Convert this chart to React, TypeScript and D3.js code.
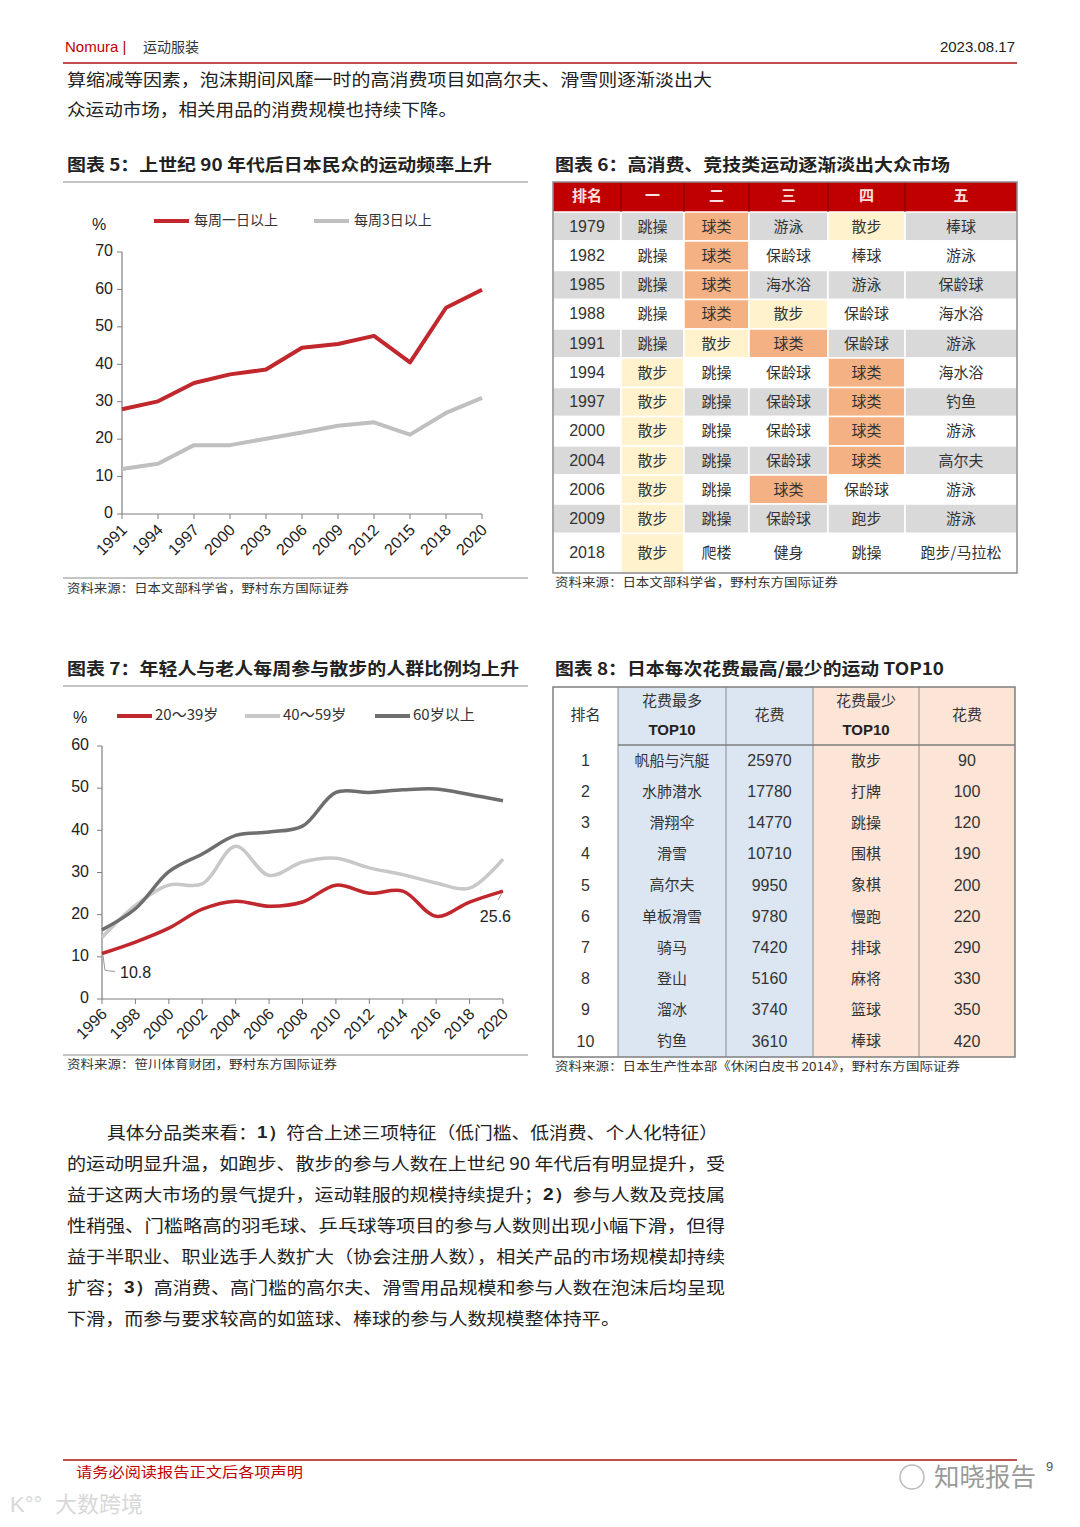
import React from "react";
import * as d3 from "d3";

const FONT_CN = "'Noto Sans CJK SC', 'Noto Sans', sans-serif";
const FONT_NUM = "'Liberation Sans', Arial, sans-serif";
const RED = "#c0282d";

// ---------- Chart 5 data ----------
const c5Years = ["1991", "1994", "1997", "2000", "2003", "2006", "2009", "2012", "2015", "2018", "2020"];
const c5Weekly1 = [28.0, 30.1, 35.0, 37.3, 38.6, 44.4, 45.4, 47.6, 40.5, 55.1, 59.9];
const c5Weekly3 = [12.0, 13.4, 18.4, 18.4, 20.1, 21.8, 23.6, 24.5, 21.2, 27.0, 31.0];
const c5YTicks = [0, 10, 20, 30, 40, 50, 60, 70];

// ---------- Chart 7 data ----------
const c7Years = [1996, 1998, 2000, 2002, 2004, 2006, 2008, 2010, 2012, 2014, 2016, 2018, 2020];
const c7Age20 = [10.8, 13.5, 16.8, 21.3, 23.2, 22.0, 23.0, 27.0, 25.1, 25.6, 19.6, 23.0, 25.6];
const c7Age40 = [14.6, 22.2, 27.0, 27.3, 36.2, 29.3, 32.5, 33.4, 31.1, 29.5, 27.5, 26.3, 33.2];
const c7Age60 = [16.4, 21.4, 30.2, 34.4, 38.8, 39.6, 41.0, 49.0, 49.0, 49.6, 49.8, 48.5, 47.0];
const c7YTicks = [0, 10, 20, 30, 40, 50, 60];

// ---------- Table 6 data ----------
const t6Header = ["排名", "一", "二", "三", "四", "五"];
const t6Years = ["1979", "1982", "1985", "1988", "1991", "1994", "1997", "2000", "2004", "2006", "2009", "2018"];
const t6Rank1 = ["跳操", "跳操", "跳操", "跳操", "跳操", "散步", "散步", "散步", "散步", "散步", "散步", "散步"];
const t6Rank2 = ["球类", "球类", "球类", "球类", "散步", "跳操", "跳操", "跳操", "跳操", "跳操", "跳操", "爬楼"];
const t6Rank3 = ["游泳", "保龄球", "海水浴", "散步", "球类", "保龄球", "保龄球", "保龄球", "保龄球", "球类", "保龄球", "健身"];
const t6Rank4 = ["散步", "棒球", "游泳", "保龄球", "保龄球", "球类", "球类", "球类", "球类", "保龄球", "跑步", "跳操"];
const t6Rank5 = ["棒球", "游泳", "保龄球", "海水浴", "游泳", "海水浴", "钓鱼", "游泳", "高尔夫", "游泳", "游泳", "跑步/马拉松"];

// ---------- Table 8 data ----------
const t8Rank = ["1", "2", "3", "4", "5", "6", "7", "8", "9", "10"];
const t8HighSport = ["帆船与汽艇", "水肺潜水", "滑翔伞", "滑雪", "高尔夫", "单板滑雪", "骑马", "登山", "溜冰", "钓鱼"];
const t8HighCost = [25970, 17780, 14770, 10710, 9950, 9780, 7420, 5160, 3740, 3610];
const t8LowSport = ["散步", "打牌", "跳操", "围棋", "象棋", "慢跑", "排球", "麻将", "篮球", "棒球"];
const t8LowCost = [90, 100, 120, 190, 200, 220, 290, 330, 350, 420];

const FitText = ({ x, y, x2, children, size = 17, weight = 400, fill = "#222", family = FONT_CN }: any) => (
  <text x={x} y={y} textLength={x2 - x} lengthAdjust="spacingAndGlyphs" fontSize={size} fontWeight={weight}
    fill={fill} fontFamily={family} dominantBaseline="middle">{children}</text>
);

function Chart5() {
  const x = d3.scalePoint<string>().domain(c5Years).range([122, 482]);
  const y = d3.scaleLinear().domain([0, 70]).range([514, 252]);
  const line = d3.line<number>().x((_, i) => x(c5Years[i]) as number).y((d) => y(d));
  return (
    <g>
      <FitText x={67} y={166} x2={492} weight={700}>图表 5：上世纪 90 年代后日本民众的运动频率上升</FitText>
      <line x1={63} x2={528} y1={182} y2={182} stroke="#8c8c8c" strokeWidth={1.2} />
      <text x={92} y={226} fontSize={16} fontFamily={FONT_NUM} fill="#222" dominantBaseline="middle">%</text>
      <line x1={154} x2={189} y1={221} y2={221} stroke={RED} strokeWidth={4} />
      <text x={194} y={221} fontSize={14} fontFamily={FONT_CN} fill="#333" dominantBaseline="middle">每周一日以上</text>
      <line x1={314} x2={349} y1={221} y2={221} stroke="#bfbfbf" strokeWidth={4} />
      <text x={354} y={221} fontSize={14} fontFamily={FONT_CN} fill="#333" dominantBaseline="middle">每周3日以上</text>
      <line x1={122} x2={122} y1={252} y2={514} stroke="#7f7f7f" strokeWidth={1.2} />
      <line x1={122} x2={482} y1={514} y2={514} stroke="#7f7f7f" strokeWidth={1.2} />
      {c5YTicks.map((t) => (
        <g key={t}>
          <line x1={117} x2={122} y1={y(t)} y2={y(t)} stroke="#7f7f7f" />
          <text x={113} y={y(t)} textAnchor="end" dominantBaseline="middle" fontSize={16} fontFamily={FONT_NUM} fill="#222">{t}</text>
        </g>
      ))}
      {c5Years.map((yr) => (
        <g key={yr}>
          <line x1={x(yr)} x2={x(yr)} y1={514} y2={519} stroke="#7f7f7f" />
          <text transform={`translate(${(x(yr) as number) + 2},${527}) rotate(-45)`} textAnchor="end" dy="0.35em"
            fontSize={16} fontFamily={FONT_NUM} fill="#222">{yr}</text>
        </g>
      ))}
      <path d={line(c5Weekly3) || ""} fill="none" stroke="#bfbfbf" strokeWidth={4} strokeLinejoin="round" />
      <path d={line(c5Weekly1) || ""} fill="none" stroke={RED} strokeWidth={4} strokeLinejoin="round" />
      <line x1={63} x2={528} y1={578} y2={578} stroke="#8c8c8c" strokeWidth={1.2} />
      <FitText x={67} y={590} x2={349} size={12} fill="#333">资料来源：日本文部科学省，野村东方国际证券</FitText>
    </g>
  );
}

function Chart7() {
  const x = d3.scaleLinear().domain([1996, 2020]).range([102, 503]);
  const y = d3.scaleLinear().domain([0, 60]).range([999, 746]);
  const line = d3.line<number>().x((_, i) => x(c7Years[i])).y((d) => y(d)).curve(d3.curveCatmullRom.alpha(0.5));
  const last = c7Years.length - 1;
  return (
    <g>
      <FitText x={67} y={670} x2={519} weight={700}>图表 7：年轻人与老人每周参与散步的人群比例均上升</FitText>
      <line x1={63} x2={528} y1={686} y2={686} stroke="#8c8c8c" strokeWidth={1.2} />
      <text x={73} y={719} fontSize={16} fontFamily={FONT_NUM} fill="#222" dominantBaseline="middle">%</text>
      <line x1={117} x2={152} y1={716} y2={716} stroke={RED} strokeWidth={4} />
      <text x={155} y={716} fontSize={15} fontFamily={FONT_CN} fill="#333" dominantBaseline="middle">20～39岁</text>
      <line x1={245} x2={280} y1={716} y2={716} stroke="#c8c8c8" strokeWidth={4} />
      <text x={283} y={716} fontSize={15} fontFamily={FONT_CN} fill="#333" dominantBaseline="middle">40～59岁</text>
      <line x1={375} x2={410} y1={716} y2={716} stroke="#6e6e6e" strokeWidth={4} />
      <text x={413} y={716} fontSize={15} fontFamily={FONT_CN} fill="#333" dominantBaseline="middle">60岁以上</text>
      <line x1={102} x2={102} y1={746} y2={999} stroke="#7f7f7f" strokeWidth={1.2} />
      <line x1={102} x2={503} y1={999} y2={999} stroke="#7f7f7f" strokeWidth={1.2} />
      {c7YTicks.map((t) => (
        <g key={t}>
          <line x1={97} x2={102} y1={y(t)} y2={y(t)} stroke="#7f7f7f" />
          <text x={89} y={y(t)} textAnchor="end" dominantBaseline="middle" fontSize={16} fontFamily={FONT_NUM} fill="#222">{t}</text>
        </g>
      ))}
      {c7Years.map((yr) => (
        <g key={yr}>
          <line x1={x(yr)} x2={x(yr)} y1={999} y2={1004} stroke="#7f7f7f" />
          <text transform={`translate(${x(yr) + 2},${1011}) rotate(-45)`} textAnchor="end" dy="0.35em"
            fontSize={16} fontFamily={FONT_NUM} fill="#222">{yr}</text>
        </g>
      ))}
      <path d={line(c7Age40) || ""} fill="none" stroke="#c8c8c8" strokeWidth={3.5} />
      <path d={line(c7Age60) || ""} fill="none" stroke="#6e6e6e" strokeWidth={3.5} />
      <path d={line(c7Age20) || ""} fill="none" stroke={RED} strokeWidth={3.5} />
      <polyline points={`${x(c7Years[0]) + 1},${y(c7Age20[0]) + 2} ${x(c7Years[0]) + 3},${y(c7Age20[0]) + 17} ${x(c7Years[0]) + 13},${y(c7Age20[0]) + 18}`}
        fill="none" stroke="#999" strokeWidth={1} />
      <text x={x(c7Years[0]) + 18} y={y(c7Age20[0]) + 20} fontSize={16} fontFamily={FONT_NUM} fill="#222" dominantBaseline="middle">{c7Age20[0]}</text>
      <line x1={x(c7Years[last]) - 1} y1={y(c7Age20[last]) + 2} x2={x(c7Years[last]) - 5} y2={y(c7Age20[last]) + 9} stroke="#999" />
      <text x={x(c7Years[last]) + 8} y={y(c7Age20[last]) + 27} textAnchor="end" fontSize={16} fontFamily={FONT_NUM} fill="#222" dominantBaseline="middle">{c7Age20[last]}</text>
      <line x1={63} x2={528} y1={1055} y2={1055} stroke="#8c8c8c" strokeWidth={1.2} />
      <FitText x={67} y={1066} x2={337} size={12} fill="#333">资料来源：笹川体育财团，野村东方国际证券</FitText>
    </g>
  );
}

function Table6() {
  const colX = [553, 621, 684, 749, 828, 905, 1017];
  const rowY = [212, 241, 270.5, 299.5, 329, 358, 387.5, 416.5, 446, 475, 504, 533.5, 573];
  const cols = [t6Years, t6Rank1, t6Rank2, t6Rank3, t6Rank4, t6Rank5];
  const cellFill = (v: string, r: number) => {
    if (v === "球类") return "#f4b183";
    if (v === "散步") return "#fff2cc";
    return r % 2 === 0 && r < 11 ? "#d9d9d9" : "#ffffff";
  };
  return (
    <g>
      <FitText x={555} y={166} x2={950} weight={700}>图表 6：高消费、竞技类运动逐渐淡出大众市场</FitText>
      <rect x={colX[0]} y={182} width={colX[6] - colX[0]} height={30} fill="#c00000" />
      {t6Header.map((h, i) => (
        <text key={h} x={(colX[i] + colX[i + 1]) / 2} y={197} textAnchor="middle" dominantBaseline="middle"
          fontSize={15} fontWeight={700} fontFamily={FONT_CN} fill="#fbe0e0">{h}</text>
      ))}
      {t6Years.map((_, r) =>
        cols.map((col, c) => {
          const v = col[r];
          return (
            <g key={`${r}-${c}`}>
              <rect x={colX[c]} y={rowY[r]} width={colX[c + 1] - colX[c]} height={rowY[r + 1] - rowY[r]}
                fill={c === 0 ? (r % 2 === 0 && r < 11 ? "#d9d9d9" : "#ffffff") : cellFill(v, r)} stroke="#ffffff" strokeWidth={1.5} />
              <text x={(colX[c] + colX[c + 1]) / 2} y={(rowY[r] + rowY[r + 1]) / 2 + 1} textAnchor="middle" dominantBaseline="middle"
                fontSize={c === 0 ? 16 : 15} fontFamily={c === 0 ? FONT_NUM : FONT_CN} fill="#333">{v}</text>
            </g>
          );
        })
      )}
      {colX.slice(1, 6).map((cx) => (
        <line key={cx} x1={cx} x2={cx} y1={182} y2={212} stroke="#7a0000" strokeWidth={1} />
      ))}
      <rect x={colX[0]} y={182} width={colX[6] - colX[0]} height={573 - 182} fill="none" stroke="#8c8c8c" strokeWidth={1.5} />
      <FitText x={555} y={584} x2={838} size={12} fill="#333">资料来源：日本文部科学省，野村东方国际证券</FitText>
    </g>
  );
}

function Table8() {
  const colX = [553, 618, 726, 813, 919, 1015];
  const top = 687, headBottom = 745, bottom = 1057;
  const rowH = (bottom - headBottom) / t8Rank.length;
  const cols = [t8Rank, t8HighSport, t8HighCost.map(String), t8LowSport, t8LowCost.map(String)];
  return (
    <g>
      <FitText x={555} y={670} x2={944} weight={700}>图表 8：日本每次花费最高/最少的运动 TOP10</FitText>
      <rect x={colX[1]} y={top} width={colX[3] - colX[1]} height={bottom - top} fill="#dce6f2" />
      <rect x={colX[3]} y={top} width={colX[5] - colX[3]} height={bottom - top} fill="#fce4d6" />
      {colX.slice(1, 5).map((cx) => (
        <line key={cx} x1={cx} x2={cx} y1={top} y2={bottom} stroke="#8c8c8c" strokeWidth={1} />
      ))}
      <line x1={colX[1]} x2={colX[5]} y1={headBottom} y2={headBottom} stroke="#7f7f7f" strokeWidth={1.5} />
      <rect x={colX[0]} y={top} width={colX[5] - colX[0]} height={bottom - top} fill="none" stroke="#7f7f7f" strokeWidth={1.5} />
      <text x={(colX[0] + colX[1]) / 2} y={716} textAnchor="middle" dominantBaseline="middle" fontSize={15} fontFamily={FONT_CN} fill="#333">排名</text>
      <text x={(colX[1] + colX[2]) / 2} y={702} textAnchor="middle" dominantBaseline="middle" fontSize={15} fontFamily={FONT_CN} fill="#333">花费最多</text>
      <text x={(colX[1] + colX[2]) / 2} y={731} textAnchor="middle" dominantBaseline="middle" fontSize={15} fontWeight={700} fontFamily={FONT_NUM} fill="#222">TOP10</text>
      <text x={(colX[2] + colX[3]) / 2} y={716} textAnchor="middle" dominantBaseline="middle" fontSize={15} fontFamily={FONT_CN} fill="#333">花费</text>
      <text x={(colX[3] + colX[4]) / 2} y={702} textAnchor="middle" dominantBaseline="middle" fontSize={15} fontFamily={FONT_CN} fill="#333">花费最少</text>
      <text x={(colX[3] + colX[4]) / 2} y={731} textAnchor="middle" dominantBaseline="middle" fontSize={15} fontWeight={700} fontFamily={FONT_NUM} fill="#222">TOP10</text>
      <text x={(colX[4] + colX[5]) / 2} y={716} textAnchor="middle" dominantBaseline="middle" fontSize={15} fontFamily={FONT_CN} fill="#333">花费</text>
      {t8Rank.map((_, r) =>
        cols.map((col, c) => (
          <text key={`${r}-${c}`} x={(colX[c] + colX[c + 1]) / 2} y={headBottom + rowH * (r + 0.5) + 1} textAnchor="middle"
            dominantBaseline="middle" fontSize={c === 1 || c === 3 ? 15 : 16}
            fontFamily={c === 1 || c === 3 ? FONT_CN : FONT_NUM} fill="#333">{col[r]}</text>
        ))
      )}
      <FitText x={555} y={1068} x2={960} size={12} fill="#333">资料来源：日本生产性本部《休闲白皮书 2014》，野村东方国际证券</FitText>
    </g>
  );
}

const B = ({ children }: any) => <tspan fontWeight={700} fontFamily={FONT_NUM}>{children}</tspan>;

function Paragraph() {
  const ys = [1134, 1165, 1196, 1227, 1258, 1289, 1320];
  const common = { fontSize: 17, fill: "#222", fontFamily: FONT_CN, dominantBaseline: "middle" as const, lengthAdjust: "spacingAndGlyphs" as const };
  return (
    <g>
      <text x={107} y={ys[0]} textLength={718 - 107} {...common}>具体分品类来看：<B>1）</B>符合上述三项特征（低门槛、低消费、个人化特征）</text>
      <text x={67} y={ys[1]} textLength={725 - 67} {...common}>的运动明显升温，如跑步、散步的参与人数在上世纪 90 年代后有明显提升，受</text>
      <text x={67} y={ys[2]} textLength={725 - 67} {...common}>益于这两大市场的景气提升，运动鞋服的规模持续提升；<B>2）</B>参与人数及竞技属</text>
      <text x={67} y={ys[3]} textLength={725 - 67} {...common}>性稍强、门槛略高的羽毛球、乒乓球等项目的参与人数则出现小幅下滑，但得</text>
      <text x={67} y={ys[4]} textLength={725 - 67} {...common}>益于半职业、职业选手人数扩大（协会注册人数），相关产品的市场规模却持续</text>
      <text x={67} y={ys[5]} textLength={725 - 67} {...common}>扩容；<B>3）</B>高消费、高门槛的高尔夫、滑雪用品规模和参与人数在泡沫后均呈现</text>
      <text x={67} y={ys[6]} textLength={620 - 67} {...common}>下滑，而参与要求较高的如篮球、棒球的参与人数规模整体持平。</text>
    </g>
  );
}

export default function App() {
  return (
    <svg width={1080} height={1527} viewBox="0 0 1080 1527"
      style={{ position: "absolute", left: 0, top: 0, background: "#ffffff" }}>
      <rect x={0} y={0} width={1080} height={1527} fill="#ffffff" />
      {/* header */}
      <text x={65} y={48} fontSize={15} fontFamily={FONT_NUM} fill="#c00000" dominantBaseline="middle">Nomura |</text>
      <text x={143} y={48} fontSize={14} fontFamily={FONT_CN} fill="#333" dominantBaseline="middle">运动服装</text>
      <text x={1015} y={48} fontSize={15} fontFamily={FONT_NUM} fill="#222" textAnchor="end" dominantBaseline="middle">2023.08.17</text>
      <line x1={63} x2={1017} y1={63} y2={63} stroke="#c0504d" strokeWidth={2.2} />
      <FitText x={67} y={81} x2={712}>算缩减等因素，泡沫期间风靡一时的高消费项目如高尔夫、滑雪则逐渐淡出大</FitText>
      <FitText x={67} y={111} x2={457}>众运动市场，相关用品的消费规模也持续下降。</FitText>
      <Chart5 />
      <Table6 />
      <Chart7 />
      <Table8 />
      <Paragraph />
      {/* footer */}
      <line x1={63} x2={1017} y1={1460} y2={1460} stroke="#c0504d" strokeWidth={2.2} />
      <FitText x={76} y={1473} x2={303} size={14} fill="#c00000">请务必阅读报告正文后各项声明</FitText>
      <text x={1046} y={1468} fontSize={13} fontFamily={FONT_NUM} fill="#555" dominantBaseline="middle">9</text>
      <circle cx={912} cy={1477} r={12} fill="none" stroke="#bbb" strokeWidth={1.5} />
      <FitText x={934} y={1479} x2={1036} size={25} fill="#9a9a9a">知晓报告</FitText>
      <text x={55} y={1506} fontSize={22} fontFamily={FONT_CN} fill="#d8d8d8" dominantBaseline="middle">大数跨境</text>
      <text x={10} y={1506} fontSize={22} fontFamily={FONT_NUM} fill="#d8d8d8" dominantBaseline="middle">K°°</text>
    </svg>
  );
}
